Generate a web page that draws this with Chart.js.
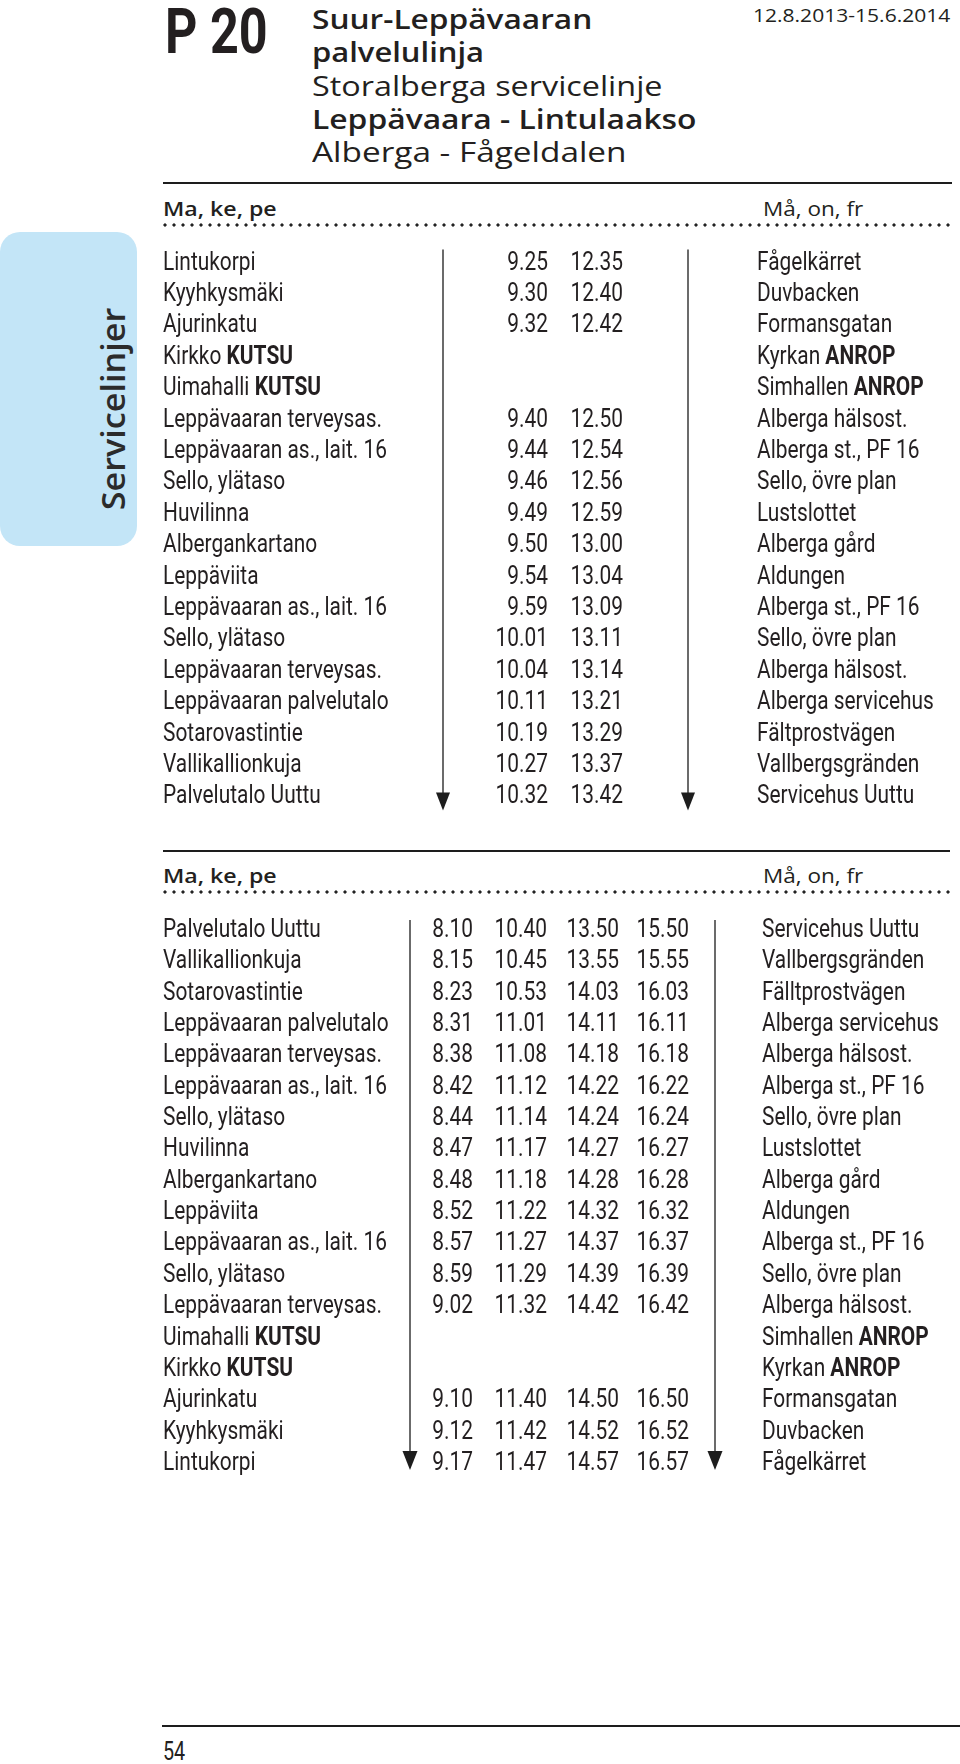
<!DOCTYPE html>
<html>
<head>
<meta charset="utf-8">
<script src="https://cdn.jsdelivr.net/npm/chart.js@4.4.1/dist/chart.umd.min.js"></script>
<style>
  html, body { margin: 0; padding: 0; background: #fff; }
  body { width: 960px; height: 1764px; position: relative; overflow: hidden; color: #231f20; font-family: "Open Sans", sans-serif; }
  .abs { position: absolute; white-space: nowrap; line-height: 1; transform-origin: left top; }
  .rule { position: absolute; height: 2px; background: #1d1d1d; }
  .dots { position: absolute; height: 4px; background-image: radial-gradient(circle at 2px 2px, #222 1.3px, rgba(0,0,0,0) 1.9px); background-size: 9px 4px; }
  .tab { position: absolute; left: 0; top: 232px; width: 137px; height: 314px; border-radius: 20px; background: #c3e5f7; }
  canvas { position: absolute; left: 0; }
</style>
</head>
<body>

<div class="abs" data-fit="103" style="left:165px; top:-5px; font:700 63px Roboto;">P 20</div>

<div class="abs" data-fit="280" style="left:312px; top:0px; font:600 27px 'Open Sans';">Suur-Leppävaaran</div>
<div class="abs" data-fit="172" style="left:312px; top:33px; font:600 27px 'Open Sans';">palvelulinja</div>
<div class="abs" data-fit="351" style="left:312px; top:67px; font:400 27px 'Open Sans';">Storalberga servicelinje</div>
<div class="abs" data-fit="384" style="left:312px; top:100px; font:600 27px 'Open Sans';">Leppävaara - Lintulaakso</div>
<div class="abs" data-fit="315" style="left:312px; top:133px; font:400 27px 'Open Sans';">Alberga - Fågeldalen</div>

<div class="abs" id="date" style="right:10px; top:2px; font:500 18.6px 'Open Sans'; transform-origin:right top;">12.8.2013-15.6.2014</div>

<div class="tab"></div>
<div class="abs" id="tabText" style="left:112px; top:409px; font:600 33px 'Open Sans'; color:#2b2b2b;">Servicelinjer</div>

<div class="rule" style="left:163px; top:182px; width:789px;"></div>
<div class="abs" data-fit="114" style="left:163px; top:194px; font:600 20.5px 'Open Sans';">Ma, ke, pe</div>
<div class="abs" data-fit="100" style="left:763px; top:194px; font:400 20.5px 'Open Sans';">Må, on, fr</div>
<div class="dots" style="left:163px; top:223px; width:789px;"></div>

<canvas id="table1" width="960" height="600" style="top:230px;"></canvas>

<div class="rule" style="left:163px; top:850px; width:787px;"></div>
<div class="abs" data-fit="114" style="left:163px; top:861px; font:600 20.5px 'Open Sans';">Ma, ke, pe</div>
<div class="abs" data-fit="100" style="left:763px; top:861px; font:400 20.5px 'Open Sans';">Må, on, fr</div>
<div class="dots" style="left:163px; top:890px; width:789px;"></div>

<canvas id="table2" width="960" height="590" style="top:900px;"></canvas>

<div class="rule" style="left:162px; top:1725px; width:798px;"></div>
<div class="abs" data-fit="22" style="left:163px; top:1736px; font:400 26px Roboto;">54</div>

<script>
// Ma, ke, pe -> Må, on, fr : Lintukorpi -> Palvelutalo Uuttu
const T1_STOPS_FI = [
  'Lintukorpi', 'Kyyhkysmäki', 'Ajurinkatu', 'Kirkko KUTSU', 'Uimahalli KUTSU',
  'Leppävaaran terveysas.', 'Leppävaaran as., lait. 16', 'Sello, ylätaso', 'Huvilinna',
  'Albergankartano', 'Leppäviita', 'Leppävaaran as., lait. 16', 'Sello, ylätaso',
  'Leppävaaran terveysas.', 'Leppävaaran palvelutalo', 'Sotarovastintie',
  'Vallikallionkuja', 'Palvelutalo Uuttu'
];
const T1_STOPS_SV = [
  'Fågelkärret', 'Duvbacken', 'Formansgatan', 'Kyrkan ANROP', 'Simhallen ANROP',
  'Alberga hälsost.', 'Alberga st., PF 16', 'Sello, övre plan', 'Lustslottet',
  'Alberga gård', 'Aldungen', 'Alberga st., PF 16', 'Sello, övre plan',
  'Alberga hälsost.', 'Alberga servicehus', 'Fältprostvägen',
  'Vallbergsgränden', 'Servicehus Uuttu'
];
const T1_TIMES_A = ['9.25', '9.30', '9.32', null, null, '9.40', '9.44', '9.46', '9.49',
  '9.50', '9.54', '9.59', '10.01', '10.04', '10.11', '10.19', '10.27', '10.32'];
const T1_TIMES_B = ['12.35', '12.40', '12.42', null, null, '12.50', '12.54', '12.56', '12.59',
  '13.00', '13.04', '13.09', '13.11', '13.14', '13.21', '13.29', '13.37', '13.42'];

// return trip: Palvelutalo Uuttu -> Lintukorpi
const T2_STOPS_FI = [
  'Palvelutalo Uuttu', 'Vallikallionkuja', 'Sotarovastintie', 'Leppävaaran palvelutalo',
  'Leppävaaran terveysas.', 'Leppävaaran as., lait. 16', 'Sello, ylätaso', 'Huvilinna',
  'Albergankartano', 'Leppäviita', 'Leppävaaran as., lait. 16', 'Sello, ylätaso',
  'Leppävaaran terveysas.', 'Uimahalli KUTSU', 'Kirkko KUTSU', 'Ajurinkatu',
  'Kyyhkysmäki', 'Lintukorpi'
];
const T2_STOPS_SV = [
  'Servicehus Uuttu', 'Vallbergsgränden', 'Fälltprostvägen', 'Alberga servicehus',
  'Alberga hälsost.', 'Alberga st., PF 16', 'Sello, övre plan', 'Lustslottet',
  'Alberga gård', 'Aldungen', 'Alberga st., PF 16', 'Sello, övre plan',
  'Alberga hälsost.', 'Simhallen ANROP', 'Kyrkan ANROP', 'Formansgatan',
  'Duvbacken', 'Fågelkärret'
];
const T2_TIMES_A = ['8.10', '8.15', '8.23', '8.31', '8.38', '8.42', '8.44', '8.47', '8.48',
  '8.52', '8.57', '8.59', '9.02', null, null, '9.10', '9.12', '9.17'];
const T2_TIMES_B = ['10.40', '10.45', '10.53', '11.01', '11.08', '11.12', '11.14', '11.17', '11.18',
  '11.22', '11.27', '11.29', '11.32', null, null, '11.40', '11.42', '11.47'];
const T2_TIMES_C = ['13.50', '13.55', '14.03', '14.11', '14.18', '14.22', '14.24', '14.27', '14.28',
  '14.32', '14.37', '14.39', '14.42', null, null, '14.50', '14.52', '14.57'];
const T2_TIMES_D = ['15.50', '15.55', '16.03', '16.11', '16.18', '16.22', '16.24', '16.27', '16.28',
  '16.32', '16.37', '16.39', '16.42', null, null, '16.50', '16.52', '16.57'];

// words printed in bold inside stop names
const BOLD_WORDS = ['KUTSU', 'ANROP'];

const TEXT_COLOR = '#231f20';
const LINE_COLOR = '#3a3a3a';
const TEXT_FONT = '400 25px Roboto';
const BOLD_FONT = '700 25px Roboto';

// condensed look: squeeze the font so this string is 224px wide
function condenseFactor(ctx) {
  ctx.font = TEXT_FONT;
  return 224 / ctx.measureText('Leppävaaran as., lait. 16').width;
}

function drawName(ctx, text, x, y, sx) {
  let cx = x;
  text.split(' ').forEach(word => {
    ctx.font = BOLD_WORDS.includes(word) ? BOLD_FONT : TEXT_FONT;
    ctx.save();
    ctx.translate(cx, y);
    ctx.scale(sx, 1);
    ctx.fillText(word, 0, 0);
    ctx.restore();
    cx += ctx.measureText(word + ' ').width * sx;
  });
}

function drawArrow(ctx, x, yTop, yTip, headW, headH) {
  ctx.strokeStyle = LINE_COLOR;
  ctx.lineWidth = 1.5;
  ctx.beginPath();
  ctx.moveTo(x, yTop);
  ctx.lineTo(x, yTip - headH / 2);
  ctx.stroke();
  ctx.fillStyle = '#1d1d1d';
  ctx.beginPath();
  ctx.moveTo(x - headW / 2, yTip - headH);
  ctx.lineTo(x + headW / 2, yTip - headH);
  ctx.lineTo(x, yTip);
  ctx.closePath();
  ctx.fill();
}

const timetablePlugin = {
  id: 'timetable',
  afterDatasetsDraw(chart, args, opts) {
    const ctx = chart.ctx;
    const yScale = chart.scales.y;
    const xScale = chart.scales.x;
    const sx = condenseFactor(ctx);
    const last = opts.fi.length - 1;

    // direction arrows
    opts.arrowX.forEach(ax => {
      const px = xScale.getPixelForValue(ax);
      drawArrow(ctx, px,
        yScale.getPixelForValue(0) - opts.lead,
        yScale.getPixelForValue(last) + opts.tip,
        opts.headW, opts.headH);
    });

    ctx.save();
    ctx.fillStyle = TEXT_COLOR;
    ctx.textBaseline = 'alphabetic';

    // stop names, Finnish left, Swedish right
    ctx.textAlign = 'left';
    opts.fi.forEach((name, i) => {
      const y = yScale.getPixelForValue(i) + 9;
      drawName(ctx, name, xScale.getPixelForValue(opts.fiX), y, sx);
      drawName(ctx, opts.sv[i], xScale.getPixelForValue(opts.svX), y, sx);
    });

    // departure times, right aligned on their points
    ctx.textAlign = 'right';
    ctx.font = TEXT_FONT;
    chart.data.datasets.forEach((ds, j) => {
      chart.getDatasetMeta(j).data.forEach((pt, k) => {
        ctx.save();
        ctx.translate(pt.x, pt.y + 9);
        ctx.scale(sx, 1);
        ctx.fillText(ds.data[k].label, 0, 0);
        ctx.restore();
      });
    });
    ctx.restore();
  }
};

function makeTable(id, fi, sv, times, layout) {
  const last = fi.length - 1;
  const datasets = times.map((col, j) => ({
    data: col.map((t, i) => t === null ? null : { x: layout.timeX[j], y: i, label: t })
             .filter(p => p !== null),
    pointRadius: 0,
    showLine: false,
  }));
  return new Chart(document.getElementById(id), {
    type: 'scatter',
    data: { datasets },
    options: {
      responsive: false,
      animation: false,
      events: [],
      layout: { padding: { top: layout.padTop, bottom: layout.padBottom, left: 0, right: 0 } },
      plugins: {
        legend: { display: false },
        tooltip: { enabled: false },
        timetable: {
          fi, sv,
          fiX: layout.fiX, svX: layout.svX, arrowX: layout.arrowX,
          lead: layout.lead, tip: layout.tip, headW: layout.headW, headH: layout.headH,
        },
      },
      scales: {
        x: { type: 'linear', min: 0, max: 960, display: false },
        y: { type: 'linear', min: -0.5, max: last + 0.5, reverse: true, display: false },
      },
    },
    plugins: [timetablePlugin],
  });
}

function fitHeaders() {
  document.querySelectorAll('[data-fit]').forEach(el => {
    const s = Number(el.dataset.fit) / el.offsetWidth;
    el.style.transform = 'scaleX(' + s + ')';
  });
  const date = document.getElementById('date');
  date.style.transform = 'scaleX(' + (197 / date.offsetWidth) + ')';
  const tab = document.getElementById('tabText');
  tab.style.transformOrigin = 'center center';
  tab.style.transform = 'translate(-50%, -50%) rotate(-90deg) scaleX(' + (202 / tab.offsetWidth) + ')';
}

fitHeaders();

makeTable('table1', T1_STOPS_FI, T1_STOPS_SV, [T1_TIMES_A, T1_TIMES_B], {
  padTop: 14.8, padBottom: 19.8,
  fiX: 163, svX: 757, timeX: [548, 623], arrowX: [443, 688],
  lead: 11, tip: 16, headW: 14, headH: 18,
});

makeTable('table2', T2_STOPS_FI, T2_STOPS_SV, [T2_TIMES_A, T2_TIMES_B, T2_TIMES_C, T2_TIMES_D], {
  padTop: 12.3, padBottom: 13.4,
  fiX: 163, svX: 762, timeX: [473, 547, 619, 689], arrowX: [410, 715],
  lead: 8, tip: 9, headW: 15, headH: 19,
});
</script>
</body>
</html>
